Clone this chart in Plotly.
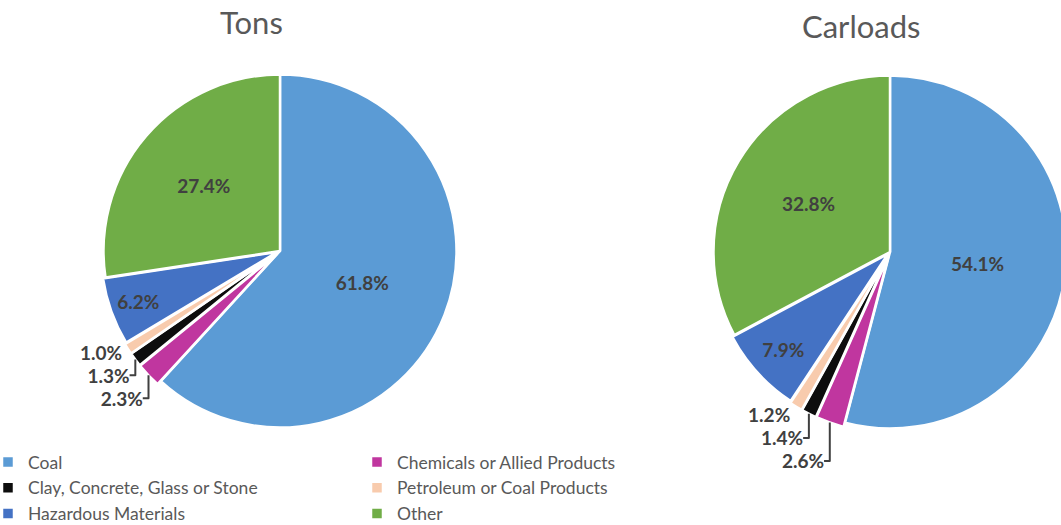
import plotly.graph_objects as go

# Commodity groups and their shares (%) of tons and of carloads
categories = [
    "Coal",
    "Chemicals or Allied Products",
    "Clay, Concrete, Glass or Stone",
    "Petroleum or Coal Products",
    "Hazardous Materials",
    "Other",
]
tons_share = [61.8, 2.3, 1.3, 1.0, 6.2, 27.4]
carloads_share = [54.1, 2.6, 1.4, 1.2, 7.9, 32.8]
titles = ["Tons", "Carloads"]

colors = ["#5B9BD5", "#C0369F", "#0D0D0D", "#F8CBAD", "#4472C4", "#70AD47"]
pulls = [0, 0.025, 0.025, 0.025, 0.015, 0]
text_pos = ["inside", "outside", "outside", "outside", "inside", "inside"]

W, H = 1072, 525
FONT = "Lato, 'Open Sans', sans-serif"


def pie_domain(cx, cy, r):
    """Domain (paper fractions) for a pie of radius r centred at (cx, cy) px."""
    half = r * (1 + max(pulls))
    return dict(
        x=[(cx - half) / W, (cx + half) / W],
        y=[1 - (cy + half) / H, 1 - (cy - half) / H],
    )


label_font = dict(family=FONT, size=19, color="#404040", weight="bold")

fig = go.Figure()
for values, (cx, cy), show in [
    (tons_share, (280, 251), True),
    (carloads_share, (890, 252), False),
]:
    fig.add_trace(
        go.Pie(
            labels=categories,
            values=values,
            sort=False,
            direction="clockwise",
            rotation=0,
            pull=pulls,
            marker=dict(colors=colors, line=dict(color="white", width=2.5)),
            texttemplate="%{value:.1f}%",
            textposition=text_pos,
            insidetextorientation="horizontal",
            insidetextfont=label_font,
            outsidetextfont=label_font,
            hoverinfo="label+value",
            domain=pie_domain(cx, cy, 176.5),
            showlegend=show,
        )
    )

# Chart titles above each pie
for text, x, y in [(titles[0], 251, 22), (titles[1], 861, 26)]:
    fig.add_annotation(
        text=text, x=x / W, y=1 - y / H, xref="paper", yref="paper",
        showarrow=False, xanchor="center", yanchor="middle",
        font=dict(family=FONT, size=31, color="#595959"),
    )

fig.update_layout(
    width=W,
    height=H,
    margin=dict(l=0, r=0, t=0, b=0, autoexpand=False),
    paper_bgcolor="white",
    plot_bgcolor="white",
    font=dict(family=FONT, color="#595959"),
    uniformtext=dict(minsize=19, mode="show"),
    legend=dict(
        orientation="h",
        x=0,
        xanchor="left",
        y=1 - 444 / H,
        yanchor="top",
        indentation=-12,
        entrywidth=336,
        entrywidthmode="pixels",
        font=dict(family=FONT, size=17.5, color="#595959"),
        bgcolor="rgba(0,0,0,0)",
        itemclick=False,
    ),
)

# Let the right-hand pie run past the page edge without a scrollbar
fig.write_html(
    "out.html",
    post_script="document.documentElement.style.overflow='hidden';"
    "document.body.style.overflow='hidden';document.body.style.margin='0';",
)
